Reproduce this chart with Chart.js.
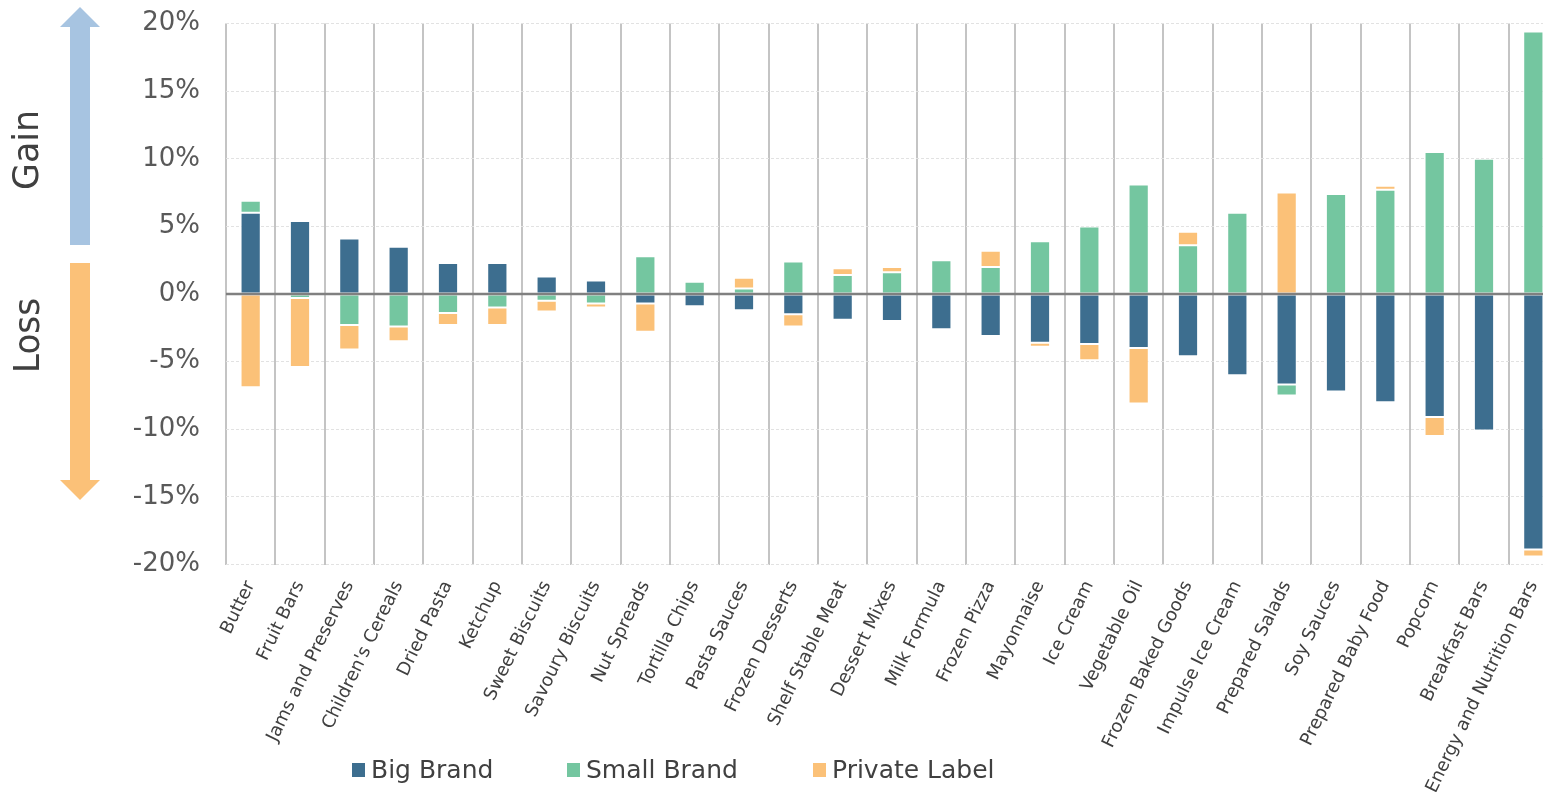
<!DOCTYPE html>
<html>
<head>
<meta charset="utf-8">
<script src="https://cdn.jsdelivr.net/npm/chart.js@4.4.1/dist/chart.umd.min.js"></script>
<style>
    html, body { margin: 0; padding: 0; background: #fff; overflow: hidden; }
    #wrap { width: 1560px; height: 792px; }
</style>
</head>
<body>
<div id="wrap"><canvas id="shareChart" width="1560" height="792"></canvas></div>
<script>
// share change by category, in percentage points
const categories = [
    'Butter', 'Fruit Bars', 'Jams and Preserves', "Children's Cereals", 'Dried Pasta',
    'Ketchup', 'Sweet Biscuits', 'Savoury Biscuits', 'Nut Spreads', 'Tortilla Chips',
    'Pasta Sauces', 'Frozen Desserts', 'Shelf Stable Meat', 'Dessert Mixes', 'Milk Formula',
    'Frozen Pizza', 'Mayonnaise', 'Ice Cream', 'Vegetable Oil', 'Frozen Baked Goods',
    'Impulse Ice Cream', 'Prepared Salads', 'Soy Sauces', 'Prepared Baby Food', 'Popcorn',
    'Breakfast Bars', 'Energy and Nutrition Bars'
];
const bigBrand = [6.0, 5.4, 4.1, 3.5, 2.3, 2.3, 1.3, 1.0, -0.7, -0.9, -1.2, -1.5, -1.9, -2.0,
    -2.6, -3.1, -3.6, -3.7, -4.0, -4.6, -6.0, -6.7, -7.2, -8.0, -9.1, -10.1, -18.9];
const smallBrand = [0.9, -0.3, -2.3, -2.4, -1.4, -1.0, -0.5, -0.7, 2.8, 0.9, 0.4, 2.4, 1.4, 1.6,
    2.5, 2.0, 3.9, 5.0, 8.1, 3.6, 6.0, -0.8, 7.4, 7.7, 10.5, 10.0, 19.4];
const privateLabel = [-6.9, -5.1, -1.8, -1.1, -0.9, -1.3, -0.8, -0.3, -2.1, 0, 0.8, -0.9, 0.5, 0.4,
    0.15, 1.2, -0.3, -1.2, -4.1, 1.0, 0, 7.5, -0.1, 0.3, -1.4, 0, -0.5];
const seriesNames = ['Big Brand', 'Small Brand', 'Private Label'];
const seriesColors = ['#3d6e8f', '#74c6a0', '#fbc178'];
const yMin = -20, yMax = 20, yStep = 5;

const textDark = '#404040';

// gain / loss arrows on the left
const sideArrows = {
    id: 'sideArrows',
    afterDraw(chart) {
        const ctx = chart.ctx;
        ctx.save();
        // up arrow
        ctx.fillStyle = '#a7c4e1';
        ctx.fillRect(70, 26, 20, 219);
        ctx.beginPath();
        ctx.moveTo(60, 27); ctx.lineTo(80, 7); ctx.lineTo(100, 27); ctx.closePath();
        ctx.fill();
        // down arrow
        ctx.fillStyle = '#fbc178';
        ctx.fillRect(70, 263, 20, 218);
        ctx.beginPath();
        ctx.moveTo(60, 480); ctx.lineTo(80, 500); ctx.lineTo(100, 480); ctx.closePath();
        ctx.fill();

        ctx.fillStyle = textDark;
        ctx.font = '35px "DejaVu Sans"';
        ctx.textAlign = 'center';
        ctx.textBaseline = 'middle';
        [['Gain', 29, 150, 80], ['Loss', 30, 335.5, 75]].forEach(function (t) {
            ctx.save();
            ctx.translate(t[1], t[2]);
            ctx.rotate(-Math.PI / 2);
            const w = ctx.measureText(t[0]).width;
            ctx.scale(t[3] / w, 1);
            ctx.fillText(t[0], 0, 0);
            ctx.restore();
        });
        ctx.restore();
    }
};

// zero line drawn over the bars
const zeroLine = {
    id: 'zeroLine',
    afterDatasetsDraw(chart) {
        const ctx = chart.ctx;
        const y = chart.scales.y.getPixelForValue(0);
        ctx.save();
        ctx.strokeStyle = '#808080';
        ctx.lineWidth = 2.5;
        ctx.beginPath();
        ctx.moveTo(chart.chartArea.left, y);
        ctx.lineTo(chart.chartArea.right, y);
        ctx.stroke();
        ctx.restore();
    }
};

// legend at the bottom, under the first labels
const bottomLegend = {
    id: 'bottomLegend',
    afterDraw(chart) {
        const ctx = chart.ctx;
        const xs = [352, 567, 813];
        ctx.save();
        ctx.font = '25px "DejaVu Sans"';
        ctx.textBaseline = 'middle';
        ctx.textAlign = 'left';
        chart.data.datasets.forEach(function (ds, i) {
            ctx.fillStyle = ds.backgroundColor;
            ctx.fillRect(xs[i], 763, 13, 14);
            ctx.fillStyle = textDark;
            ctx.fillText(ds.label, xs[i] + 19, 771);
        });
        ctx.restore();
    }
};

const ctx = document.getElementById('shareChart').getContext('2d');
const shareChart = new Chart(ctx, {
    type: 'bar',
    data: {
        labels: categories,
        datasets: [bigBrand, smallBrand, privateLabel].map(function (vals, i) {
            return {
                label: seriesNames[i],
                data: vals,
                backgroundColor: seriesColors[i],
                borderColor: '#ffffff',
                borderWidth: 1,
                borderSkipped: false,
                categoryPercentage: 1,
                barPercentage: 0.41
            };
        })
    },
    options: {
        responsive: false,
        animation: false,
        layout: { autoPadding: false, padding: { top: 23.5, right: 2, left: 0, bottom: 0 } },
        plugins: {
            legend: { display: false },
            tooltip: { enabled: false }
        },
        scales: {
            x: {
                stacked: true,
                afterFit: function (scale) {
                    scale.height = 792 - 564.5;
                    scale.paddingLeft = 0;
                    scale.paddingRight = 0;
                },
                grid: { color: '#c4c4c4', lineWidth: 2, drawTicks: false, offset: true },
                border: { display: false },
                ticks: {
                    autoSkip: false,
                    maxRotation: 64,
                    minRotation: 64,
                    padding: 13,
                    color: textDark,
                    font: { family: 'DejaVu Sans', size: 18 }
                }
            },
            y: {
                stacked: true,
                min: yMin,
                max: yMax,
                afterFit: function (scale) {
                    scale.width = 226;
                    scale.paddingTop = 0;
                    scale.paddingBottom = 0;
                },
                grid: { color: '#e2e2e2', lineWidth: 1, drawTicks: false },
                border: { display: false, dash: [3, 2] },
                ticks: {
                    stepSize: yStep,
                    padding: 26,
                    color: '#595959',
                    font: { family: 'DejaVu Sans', size: 26 },
                    callback: function (v) { return v + '%'; }
                }
            }
        }
    },
    plugins: [sideArrows, zeroLine, bottomLegend]
});
</script>
</body>
</html>
